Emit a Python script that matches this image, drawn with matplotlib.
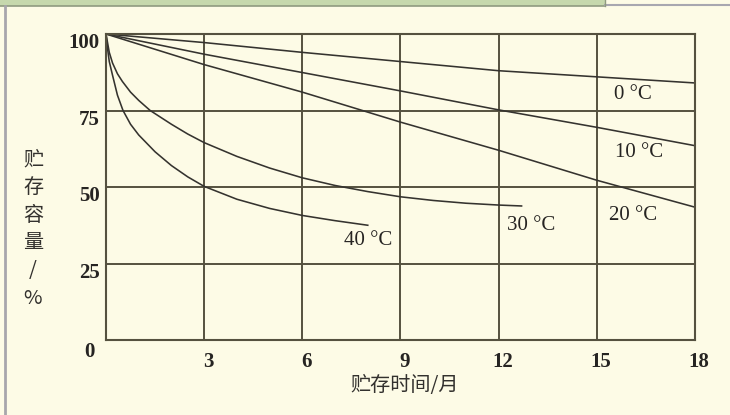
import matplotlib
matplotlib.use('Agg')
import matplotlib.pyplot as plt
from matplotlib.transforms import offset_copy
from matplotlib.patches import Rectangle
from matplotlib.lines import Line2D

# storage capacity (%) vs storage time (months) at different temperatures
months = [0, 3, 6, 9, 12, 15, 18]
cap_0c = [100, 97.2, 94, 91, 88, 86, 84]
cap_10c = [100, 93.4, 87.4, 81.4, 75.2, 69.5, 63.5]
cap_20c = [100, 90, 81, 71.2, 62, 52.2, 43.4]

months_30c = [0, 0.1, 0.2, 0.35, 0.5, 0.75, 1, 1.35, 2, 2.5, 3, 4, 5, 6, 7, 8, 9, 10, 11, 12, 12.7]
cap_30c = [100, 94, 90.5, 87, 84.5, 81, 78.3, 75, 70.5, 67.3, 64.5, 60, 56.2, 53, 50.5, 48.5, 46.8, 45.6, 44.7, 44.1, 43.8]

months_40c = [0, 0.05, 0.1, 0.2, 0.35, 0.52, 0.75, 1, 1.5, 2, 2.5, 3, 4, 5, 6, 7, 8]
cap_40c = [100, 95, 91, 86.5, 80, 75, 70.5, 67, 61.5, 57, 53.3, 50.2, 46, 43, 40.7, 39, 37.5]

curve_labels = ['0 °C', '10 °C', '20 °C', '30 °C', '40 °C']
label_x = [16.1, 16.3, 16.1, 13.0, 8.0]
label_y = [80.1, 61.2, 40.7, 37.5, 32.6]

xticks = [3, 6, 9, 12, 15, 18]
yticks = [25, 50, 75, 100]

bg = '#fdfbe6'
grid_c = '#55513f'
line_c = '#35332f'
txt_c = '#262422'
serif = ['Liberation Serif', 'DejaVu Serif']
cjk = ['Noto Sans CJK SC', 'DejaVu Sans']

fig = plt.figure(figsize=(7.3, 4.15), dpi=100, facecolor=bg)
W, H = 730, 415

# frame and (cut off) green header bar
fig.add_artist(Rectangle((0, 1 - 6 / H), 605 / W, 6 / H, transform=fig.transFigure,
                         facecolor='#c6d8ad', edgecolor='none'))
fig.add_artist(Line2D([0, 605 / W], [1 - 6 / H] * 2, transform=fig.transFigure,
                      color='#8f9a80', lw=1.2))
fig.add_artist(Line2D([605 / W, 1], [1 - 5 / H] * 2, transform=fig.transFigure,
                      color='#a8a7b0', lw=1.5))
fig.add_artist(Line2D([605 / W, 605 / W], [1 - 6 / H, 1], transform=fig.transFigure,
                      color='#8f9a80', lw=1.0))
fig.add_artist(Line2D([5 / W, 5 / W], [0, 1 - 6 / H], transform=fig.transFigure,
                      color='#a8a6ac', lw=2.0))

ax = fig.add_axes([106 / W, 1 - 340 / H, 589 / W, 306 / H])
ax.set_facecolor(bg)
ax.set_xlim(0, 18)
ax.set_ylim(0, 100)

ax.plot(months, cap_0c, color=line_c, lw=1.15)
ax.plot(months, cap_10c, color=line_c, lw=1.15)
ax.plot(months, cap_20c, color=line_c, lw=1.15)
ax.plot(months_30c, cap_30c, color=line_c, lw=1.15)
ax.plot(months_40c, cap_40c, color=line_c, lw=1.15)

for t, x, y in zip(curve_labels, label_x, label_y):
    ax.text(x, y, t, ha='center', va='center', fontsize=15, family=serif, color=txt_c)

ax.set_xticks(xticks)
ax.set_yticks(yticks)
ax.grid(True, color=grid_c, lw=1.4)
ax.tick_params(length=0, labelbottom=False, labelleft=False)
for s in ax.spines.values():
    s.set_color(grid_c)
    s.set_linewidth(1.5)

# tick labels, sitting a bit below their grid lines like the original
ytr = offset_copy(ax.get_yaxis_transform(), fig=fig, x=-6, y=-9, units='dots')
for v in yticks:
    ax.text(0, v, str(v), transform=ytr, ha='right', va='center', fontsize=15,
            fontweight='bold', family=serif, color=txt_c)
xtr = offset_copy(ax.get_xaxis_transform(), fig=fig, x=4, y=-22, units='dots')
for v in xticks:
    ax.text(v, 0, str(v), transform=xtr, ha='center', va='center', fontsize=15,
            fontweight='bold', family=serif, color=txt_c)
otr = offset_copy(ax.transData, fig=fig, x=-17, y=-12, units='dots')
ax.text(0, 0, '0', transform=otr, ha='center', va='center', fontsize=15,
        fontweight='bold', family=serif, color=txt_c)

fig.text(33 / W, 1 - 229 / H, '贮\n存\n容\n量\n/\n%', ha='center', va='center',
         fontsize=14.5, family=cjk, color='#33312e', linespacing=1.42)
fig.text(405 / W, 1 - 385 / H, '贮存时间/月', ha='center', va='center',
         fontsize=14.5, family=cjk, color='#33312e')

fig.savefig('out.png', dpi=100, facecolor=bg)
